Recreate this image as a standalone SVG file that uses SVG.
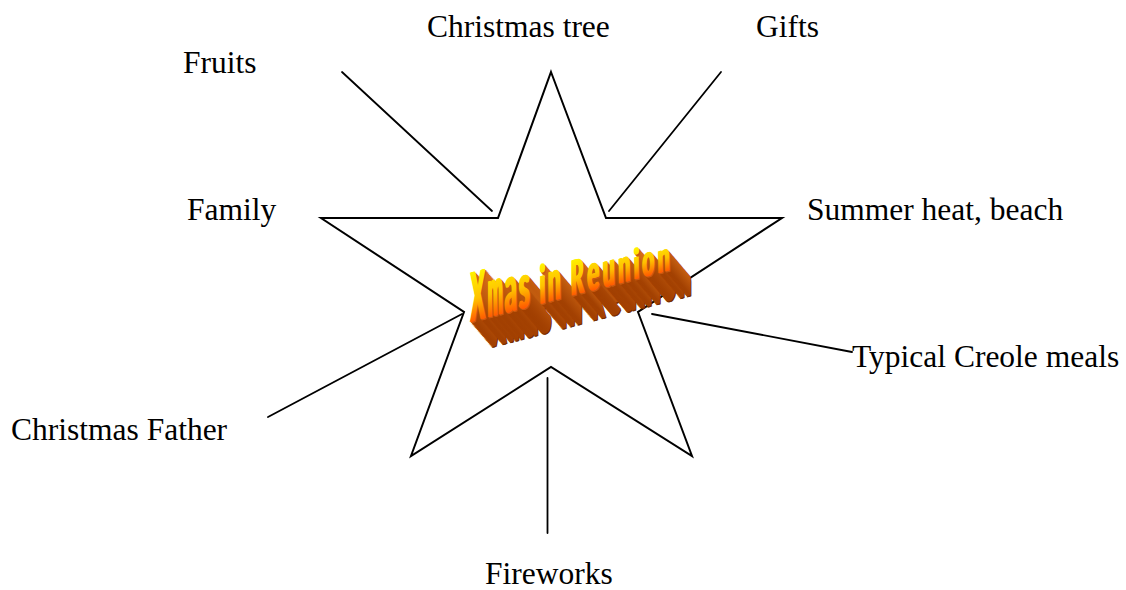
<svg xmlns="http://www.w3.org/2000/svg" width="1126" height="590" viewBox="0 0 1126 590">
<style>
.lbl{font-family:"Liberation Serif","Times New Roman",serif;font-size:31.5px;fill:#000}
.edge{stroke:#000;stroke-width:1.8;fill:none;stroke-linecap:round}
.star{stroke:#000;stroke-width:2;fill:#fff;stroke-linejoin:miter}
.wa{font-family:Lato,Roboto,"Liberation Sans",sans-serif;font-weight:900;font-size:70px}
</style>
<defs>
<linearGradient id="face" x1="0" y1="0" x2="0" y2="1">
<stop offset="0.22" stop-color="#FFF000"/>
<stop offset="0.55" stop-color="#FFC200"/>
<stop offset="0.84" stop-color="#FF5500"/>
</linearGradient>
<linearGradient id="ext" x1="0" y1="0" x2="0" y2="1">
<stop offset="0.22" stop-color="#DA7018"/>
<stop offset="0.84" stop-color="#A03E00"/>
</linearGradient>
<g id="wa0" class="wa">
<text transform="matrix(1,-0.26,0,0.97,470,322)" textLength="14" lengthAdjust="spacingAndGlyphs">X</text>
<text transform="matrix(1,-0.26,0,0.99,487,317.6)" textLength="15" lengthAdjust="spacingAndGlyphs">m</text>
<text transform="matrix(1,-0.26,0,0.94,504,313.2)" textLength="12" lengthAdjust="spacingAndGlyphs">a</text>
<text transform="matrix(1,-0.26,0,0.89,518,309.5)" textLength="11" lengthAdjust="spacingAndGlyphs">s</text>
<text transform="matrix(1,-0.26,0,0.76,539,304.1)" textLength="5.5" lengthAdjust="spacingAndGlyphs">i</text>
<text transform="matrix(1,-0.26,0,0.81,547,302)" textLength="13" lengthAdjust="spacingAndGlyphs">n</text>
<text transform="matrix(1,-0.26,0,0.69,570,296)" textLength="13" lengthAdjust="spacingAndGlyphs">R</text>
<text transform="matrix(1,-0.26,0,0.73,586.5,291.7)" textLength="12" lengthAdjust="spacingAndGlyphs">e</text>
<text transform="matrix(1,-0.26,0,0.70,602,287.7)" textLength="12" lengthAdjust="spacingAndGlyphs">u</text>
<text transform="matrix(1,-0.26,0,0.68,617.5,283.7)" textLength="12" lengthAdjust="spacingAndGlyphs">n</text>
<text transform="matrix(1,-0.26,0,0.60,633,279.6)" textLength="5.5" lengthAdjust="spacingAndGlyphs">i</text>
<text transform="matrix(1,-0.26,0,0.64,641.5,277.4)" textLength="12" lengthAdjust="spacingAndGlyphs">o</text>
<text transform="matrix(1,-0.26,0,0.60,657,273.4)" textLength="12" lengthAdjust="spacingAndGlyphs">n</text>
</g>
<g id="wa">
<use href="#wa0"/>
<use href="#wa0" transform="translate(0.8,-0.2)"/>
<use href="#wa0" transform="translate(1.6,-0.4)"/>
</g>
</defs>
<rect width="1126" height="590" fill="#fff"/>
<g id="star">
<polygon class="star" points="551,72 606,218 782,218 638,312 692,456 551,367 411,456 464,312 321,218 498,218"/>
</g>
<g id="connectors">
<line class="edge" x1="342" y1="72" x2="492" y2="211"/>
<line class="edge" x1="721" y1="72" x2="609" y2="211"/>
<line class="edge" x1="652" y1="314" x2="852" y2="352"/>
<line class="edge" x1="268" y1="417" x2="462" y2="314"/>
<line class="edge" x1="547.5" y1="378" x2="547.5" y2="533"/>
</g>
<g id="title">
<use href="#wa" fill="#7A3000" transform="translate(22,26)"/>
<use href="#wa" fill="url(#ext)" transform="translate(21,24.8)"/>
<use href="#wa" fill="url(#ext)" transform="translate(20,23.6)"/>
<use href="#wa" fill="url(#ext)" transform="translate(19,22.4)"/>
<use href="#wa" fill="url(#ext)" transform="translate(18,21.2)"/>
<use href="#wa" fill="url(#ext)" transform="translate(17,20)"/>
<use href="#wa" fill="url(#ext)" transform="translate(16,18.9)"/>
<use href="#wa" fill="url(#ext)" transform="translate(15,17.7)"/>
<use href="#wa" fill="url(#ext)" transform="translate(14,16.5)"/>
<use href="#wa" fill="url(#ext)" transform="translate(13,15.3)"/>
<use href="#wa" fill="url(#ext)" transform="translate(12,14.2)"/>
<use href="#wa" fill="url(#ext)" transform="translate(11,13)"/>
<use href="#wa" fill="url(#ext)" transform="translate(10,11.8)"/>
<use href="#wa" fill="url(#ext)" transform="translate(9,10.6)"/>
<use href="#wa" fill="url(#ext)" transform="translate(8,9.5)"/>
<use href="#wa" fill="url(#ext)" transform="translate(7,8.3)"/>
<use href="#wa" fill="url(#ext)" transform="translate(6,7.1)"/>
<use href="#wa" fill="url(#ext)" transform="translate(5,5.9)"/>
<use href="#wa" fill="url(#ext)" transform="translate(4,4.7)"/>
<use href="#wa" fill="url(#ext)" transform="translate(3,3.5)"/>
<use href="#wa" fill="url(#ext)" transform="translate(2,2.4)"/>
<use href="#wa" fill="#C85A10" transform="translate(1,1.2)"/>
<use href="#wa" fill="url(#face)"/>
</g>
<g id="node-christmas-tree"><text class="lbl" x="427" y="37">Christmas tree</text></g>
<g id="node-gifts"><text class="lbl" x="756" y="37">Gifts</text></g>
<g id="node-fruits"><text class="lbl" x="183" y="73">Fruits</text></g>
<g id="node-family"><text class="lbl" x="187" y="220">Family</text></g>
<g id="node-summer"><text class="lbl" x="807" y="220">Summer heat, beach</text></g>
<g id="node-creole"><text class="lbl" x="852" y="367">Typical Creole meals</text></g>
<g id="node-father"><text class="lbl" x="11" y="440">Christmas Father</text></g>
<g id="node-fireworks"><text class="lbl" x="485" y="584">Fireworks</text></g>
</svg>
